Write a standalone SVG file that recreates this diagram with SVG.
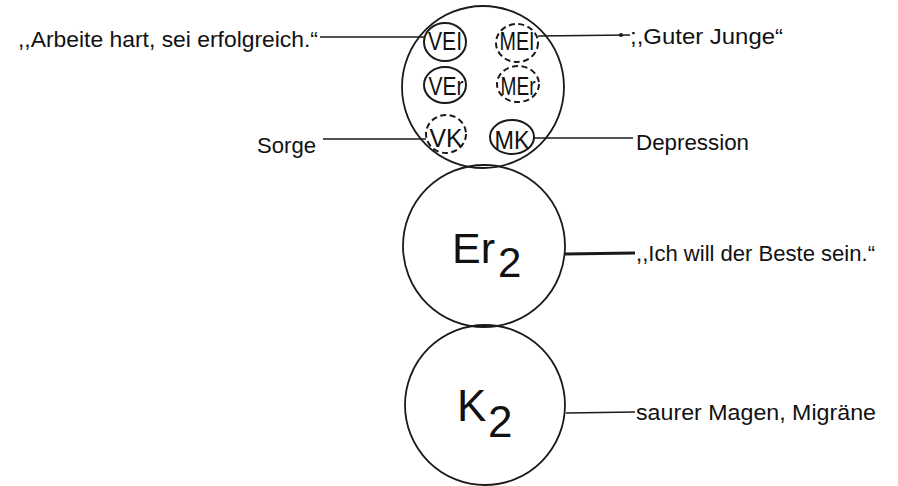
<svg xmlns="http://www.w3.org/2000/svg" width="898" height="486" viewBox="0 0 898 486">
<style>
.big{fill:none;stroke:#1a1a1a;stroke-width:1.8}
.sm{fill:none;stroke:#1a1a1a;stroke-width:2}
.dash{stroke-dasharray:6 3.5}
.ln{fill:none;stroke:#1a1a1a;stroke-width:1.6}
.lbl{font-family:"Liberation Sans",Arial,sans-serif;font-size:22.5px;fill:#111}
.hand{font-family:"Liberation Sans",Arial,sans-serif;font-size:25px;fill:#111;text-anchor:middle}
.main{font-family:"Liberation Sans",Arial,sans-serif;fill:#111}
</style>
<rect width="898" height="486" fill="#fff"/>
<g id="connectors">
<line class="ln" x1="320" y1="37" x2="425" y2="37"/>
<line class="ln" x1="538" y1="36" x2="630" y2="35"/>
<circle cx="621" cy="35" r="2" fill="#1a1a1a"/>
<line class="ln" x1="323" y1="139" x2="426" y2="139"/>
<line class="ln" x1="533" y1="138" x2="633" y2="138"/>
<line class="ln" x1="565" y1="254" x2="635" y2="253" style="stroke-width:3"/>
<line class="ln" x1="566" y1="413" x2="635" y2="412"/>
</g>
<g id="node-top">
<circle class="big" cx="483" cy="87" r="81"/>
</g>
<g id="node-VEI">
<ellipse class="sm" cx="445" cy="42" rx="21" ry="19"/>
<text class="hand" x="445" y="50" textLength="34" lengthAdjust="spacingAndGlyphs">VEI</text>
</g>
<g id="node-MEI">
<ellipse class="sm dash" cx="517" cy="43" rx="21" ry="19"/>
<text class="hand" x="517" y="50" textLength="35" lengthAdjust="spacingAndGlyphs">MEI</text>
</g>
<g id="node-VEr">
<ellipse class="sm" cx="445" cy="85" rx="21" ry="18"/>
<text class="hand" x="446" y="95" textLength="35" lengthAdjust="spacingAndGlyphs">VEr</text>
</g>
<g id="node-MEr">
<ellipse class="sm dash" cx="518" cy="84" rx="21" ry="18"/>
<text class="hand" x="518" y="95" textLength="35" lengthAdjust="spacingAndGlyphs">MEr</text>
</g>
<g id="node-VK">
<ellipse class="sm dash" cx="446" cy="134" rx="20" ry="19"/>
<text class="hand" x="446" y="147" textLength="33" lengthAdjust="spacingAndGlyphs">VK</text>
</g>
<g id="node-MK">
<ellipse class="sm" cx="512" cy="137" rx="22" ry="17"/>
<text class="hand" x="512" y="149" textLength="35" lengthAdjust="spacingAndGlyphs">MK</text>
</g>
<g id="node-Er2">
<circle class="big" cx="484" cy="246" r="81"/>
<text class="main" x="452" y="263" font-size="43">Er</text>
<text class="main" x="498" y="277" font-size="42">2</text>
</g>
<g id="node-K2">
<circle class="big" cx="485" cy="405" r="80"/>
<text class="main" x="457" y="421" font-size="44">K</text>
<text class="main" x="488" y="437" font-size="44">2</text>
</g>
<g id="labels">
<text class="lbl" x="18" y="47" textLength="300" lengthAdjust="spacingAndGlyphs">,,Arbeite hart, sei erfolgreich.“</text>
<text class="lbl" x="630" y="44" textLength="153" lengthAdjust="spacingAndGlyphs">;,Guter Junge“</text>
<text class="lbl" x="257" y="153" textLength="59" lengthAdjust="spacingAndGlyphs">Sorge</text>
<text class="lbl" x="636" y="150" textLength="113" lengthAdjust="spacingAndGlyphs">Depression</text>
<text class="lbl" x="636" y="261" textLength="239" lengthAdjust="spacingAndGlyphs">,,Ich will der Beste sein.“</text>
<text class="lbl" x="636" y="420" textLength="240" lengthAdjust="spacingAndGlyphs">saurer Magen, Migräne</text>
</g>
</svg>
